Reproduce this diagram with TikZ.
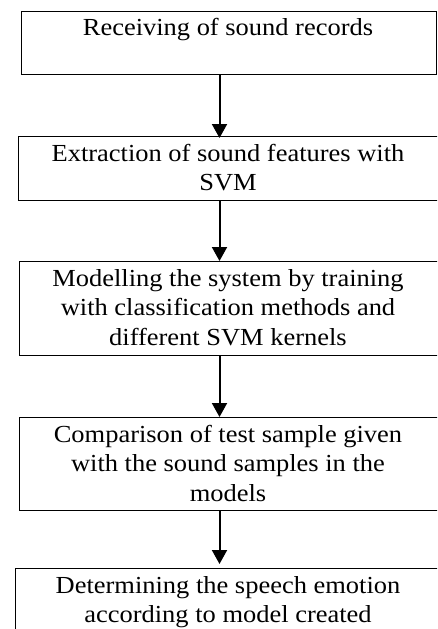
\documentclass[tikz,border=0pt]{standalone}
\usepackage{fontspec}
\setmainfont{Liberation Serif}[FakeStretch=1.08]
\usetikzlibrary{arrows.meta,calc}
\newcommand{\firstline}{\rule{0pt}{20pt}}
\begin{document}
\begin{tikzpicture}[x=1pt,y=-1pt,
  boxnode/.style={draw=black,line width=1pt,rectangle,inner sep=0pt,anchor=north west},
  txt/.style={anchor=north,inner sep=0pt,align=center,font=\fontsize{24.5}{29.5}\selectfont},
  arr/.style={line width=2pt,-{Triangle[length=14pt,width=15pt]}}]
\useasboundingbox (0,0) rectangle (437,629);
\clip (0,0) rectangle (437,629);
\fill[white] (0,0) rectangle (437,629);
% boxes
\node[boxnode,minimum width=415pt,minimum height=63.5pt] (b1) at (20.5,10.5) {};
\node[boxnode,minimum width=425pt,minimum height=64pt] (b2) at (17.5,136) {};
\node[boxnode,minimum width=425pt,minimum height=93.5pt] (b3) at (19,261) {};
\node[boxnode,minimum width=425pt,minimum height=93pt] (b4) at (19,417) {};
\node[boxnode,minimum width=430pt,minimum height=80pt] (b5) at (15,568) {};
% texts
\node[txt] (t1) at (228,15.5) {\firstline Receiving of sound records};
\node[txt] (t2) at (228,141) {\firstline Extraction of sound features with\\SVM};
\node[txt] (t3) at (228,266) {\firstline Modelling the system by training\\with classification methods and\\different SVM kernels};
\node[txt] (t4) at (228,422) {\firstline Comparison of test sample given\\with the sound samples in the\\models};
\node[txt] (t5) at (228,573) {\firstline Determining the speech emotion\\according to model created};
% arrows
\coordinate (ax) at (219.5,0);
\draw[arr] (b1.south -| ax) -- ($(b2.north -| ax)+(0,2)$);
\draw[arr] (b2.south -| ax) -- (b3.north -| ax);
\draw[arr] (b3.south -| ax) -- (b4.north -| ax);
\draw[arr] (b4.south -| ax) -- ($(b5.north -| ax)+(0,-4)$);
\end{tikzpicture}
\end{document}
